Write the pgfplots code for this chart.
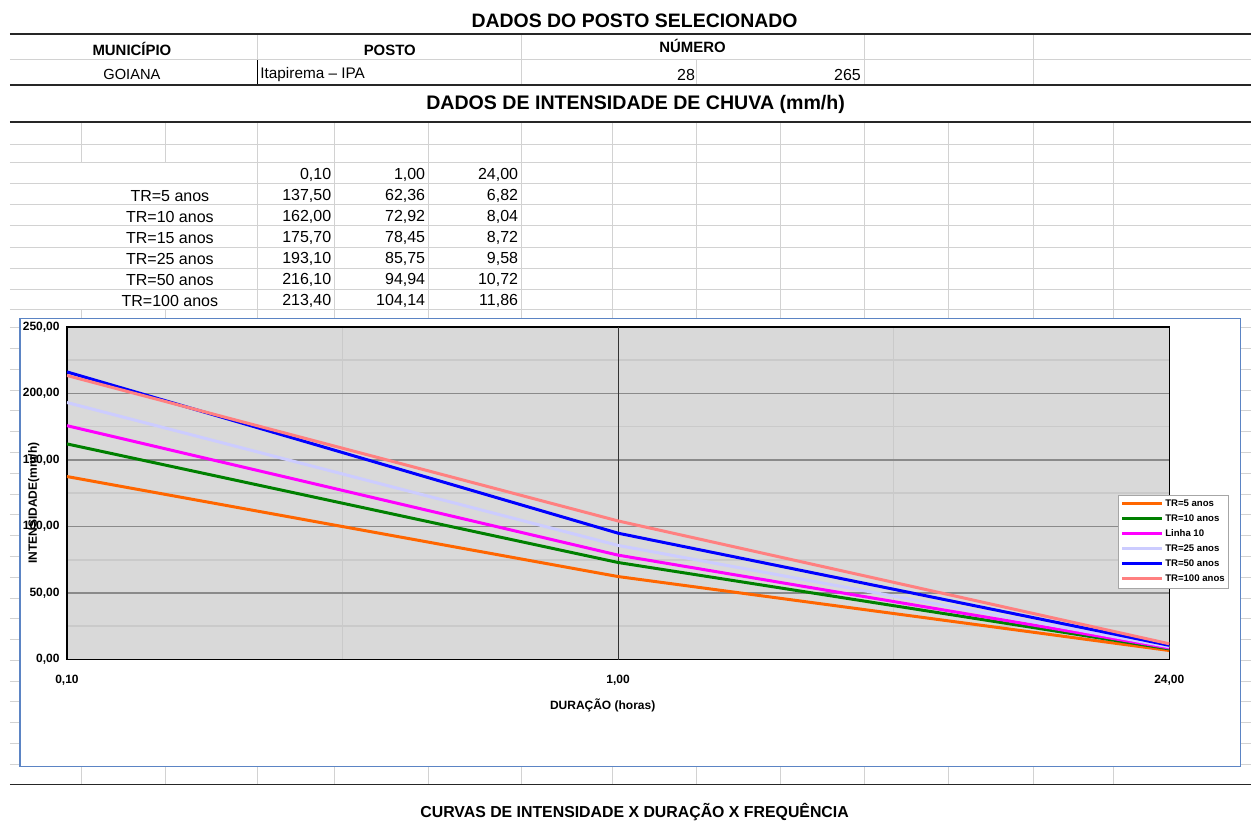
\documentclass[border=0pt]{standalone}
\usepackage{pgfplots}
\pgfplotsset{compat=1.18}
\usepackage{fontspec}
\setmainfont{Liberation Sans}
\definecolor{gridc}{HTML}{D2D2D2}
\definecolor{plotbg}{HTML}{D9D9D9}
\definecolor{minorg}{HTML}{CACACA}
\definecolor{majorg}{HTML}{8A8A8A}
\definecolor{chartblue}{HTML}{5B84C4}
\definecolor{cTRa}{HTML}{FF6600}
\definecolor{cTRb}{HTML}{008000}
\definecolor{cTRc}{HTML}{FF00FF}
\definecolor{cTRd}{HTML}{CCCCFF}
\definecolor{cTRe}{HTML}{0000FF}
\definecolor{cTRf}{HTML}{FF8080}
\pgfplotstableread{
x  a      b      c      d      e      f
0  137.50 162.00 175.70 193.10 216.10 213.40
1  62.36  72.92  78.45  85.75  94.94  104.14
2  6.82   8.04   8.72   9.58   10.72  11.86
}\idf
\begin{document}
\begin{tikzpicture}[x=0.75pt,y=0.75pt]
\path (0,0) rectangle (1252,834);
\begin{scope}[shift={(0,834)}, yscale=-1]
% spreadsheet grid
\begin{scope}[draw=gridc, line width=0.75pt]
 \draw (10,60) -- (1252,60);
 \foreach \y in {145,163,184,205,226,248,269,290,310} \draw (10,\y) -- (1252,\y);
 \foreach \i in {0,...,21} \draw (10,{328+20.8*\i}) -- (1252,{328+20.8*\i});
 \foreach \x in {258,522,865,1034} \draw (\x,34) -- (\x,60);
 \foreach \x in {522,697,865,1034} \draw (\x,60) -- (\x,85);
 \foreach \x in {82,166} \draw (\x,122) -- (\x,163) (\x,310) -- (\x,319) (\x,767) -- (\x,785);
 \foreach \x in {258,335,429,522,613,697,781,865,949,1034,1114} \draw (\x,122) -- (\x,319) (\x,767) -- (\x,785);
\end{scope}
\draw[line width=0.75pt] (258,60) -- (258,85);
\draw[black!85, line width=1.2pt] (10,34) -- (1252,34) (10,85) -- (1252,85) (10,122) -- (1252,122) (10,785) -- (1252,785);
% texts
\node[font=\bfseries\fontsize{14.6}{16}\selectfont] at (635,21) {DADOS DO POSTO SELECIONADO};
\node[font=\bfseries\fontsize{11.2}{13}\selectfont] at (132,49) {MUNICÍPIO};
\node[font=\bfseries\fontsize{11.2}{13}\selectfont] at (390,50) {POSTO};
\node[font=\bfseries\fontsize{11.2}{13}\selectfont] at (693,46) {NÚMERO};
\node[font=\fontsize{11}{13}\selectfont] at (132,75) {GOIANA};
\node[font=\fontsize{11.5}{14}\selectfont, anchor=west, inner sep=1pt] at (259,75) {Itapirema – IPA};
\node[font=\fontsize{12}{14}\selectfont, anchor=east, inner sep=1pt] at (697,75) {28};
\node[font=\fontsize{12}{14}\selectfont, anchor=east, inner sep=1pt] at (863,75) {265};
\node[font=\bfseries\fontsize{14.7}{16}\selectfont] at (636,105) {DADOS DE INTENSIDADE DE CHUVA (mm/h)};
\begin{scope}[every node/.style={font=\fontsize{12}{14}\selectfont, inner sep=1pt}]
 \node[anchor=east] at (333,175) {0,10};
 \node[anchor=east] at (427,175) {1,00};
 \node[anchor=east] at (520,175) {24,00};
 \node at (170,196) {TR=5 anos};   \node[anchor=east] at (333,196) {137,50}; \node[anchor=east] at (427,196) {62,36};  \node[anchor=east] at (520,196) {6,82};
 \node at (170,217) {TR=10 anos};  \node[anchor=east] at (333,217) {162,00}; \node[anchor=east] at (427,217) {72,92};  \node[anchor=east] at (520,217) {8,04};
 \node at (170,238) {TR=15 anos};  \node[anchor=east] at (333,238) {175,70}; \node[anchor=east] at (427,238) {78,45};  \node[anchor=east] at (520,238) {8,72};
 \node at (170,259) {TR=25 anos};  \node[anchor=east] at (333,259) {193,10}; \node[anchor=east] at (427,259) {85,75};  \node[anchor=east] at (520,259) {9,58};
 \node at (170,280) {TR=50 anos};  \node[anchor=east] at (333,280) {216,10}; \node[anchor=east] at (427,280) {94,94};  \node[anchor=east] at (520,280) {10,72};
 \node at (170,301) {TR=100 anos}; \node[anchor=east] at (333,301) {213,40}; \node[anchor=east] at (427,301) {104,14}; \node[anchor=east] at (520,301) {11,86};
\end{scope}
\node[font=\bfseries\fontsize{11.9}{14}\selectfont] at (635,813) {CURVAS DE INTENSIDADE X DURAÇÃO X FREQUÊNCIA};
% chart area
\draw[chartblue, line width=0.9pt, fill=white] (20,319) rectangle (1241,767);
\end{scope}
\begin{axis}[
  at={(50.25pt,130.5pt)}, anchor=south west,
  scale only axis, width=827.25pt, height=249.75pt,
  xmin=0, xmax=2, ymin=0, ymax=250,
  axis background/.style={fill=plotbg},
  axis line style={black, line width=1.1pt},
  xtick={0,1,2}, xticklabels={{0,10},{1,00},{24,00}},
  minor xtick={0.5,1.5},
  ytick={0,50,...,250},
  yticklabels={{0,00},{50,00},{100,00},{150,00},{200,00},{250,00}},
  minor ytick={25,75,...,225},
  major tick length=0pt, minor tick length=0pt,
  grid=both,
  major x grid style={black!80, line width=0.6pt},
  minor x grid style={minorg, line width=1.2pt},
  major y grid style={majorg, line width=1.1pt},
  minor y grid style={minorg, line width=1.2pt},
  tick label style={font=\bfseries\fontsize{9}{10}\selectfont},
  xticklabel style={yshift=-8pt},
  yticklabel style={xshift=-2pt},
  xlabel={DURAÇÃO (horas)},
  ylabel={INTENSIDADE(mm/h)},
  xlabel style={at={(axis description cs:0.486,-0.137)}, anchor=center, font=\bfseries\fontsize{9}{10}\selectfont},
  ylabel style={at={(axis description cs:-0.0300,0.47)}, anchor=center, font=\bfseries\fontsize{9}{10}\selectfont},
  legend style={at={(axis description cs:0.9535,0.4955)}, anchor=north west,
    draw=black!35, fill=white, font=\bfseries\fontsize{7.2}{8}\selectfont,
    inner sep=2pt, row sep=1.75pt,
    nodes={inner sep=1pt, text height=6pt, text depth=1.5pt}},
  legend cell align=left,
  legend image code/.code={\draw[#1, line width=2.25pt] (0pt,0pt) -- (30pt,0pt);},
  every axis plot/.append style={line width=2.25pt},
]
\draw[black!80, line width=0.6pt] (axis cs:1,0) -- (axis cs:1,250);
\addplot[cTRa] table[x=x,y=a]{\idf}; \addlegendentry{TR=5 anos}
\addplot[cTRb] table[x=x,y=b]{\idf}; \addlegendentry{TR=10 anos}
\addplot[cTRc] table[x=x,y=c]{\idf}; \addlegendentry{Linha 10}
\addplot[cTRd] table[x=x,y=d]{\idf}; \addlegendentry{TR=25 anos}
\addplot[cTRe] table[x=x,y=e]{\idf}; \addlegendentry{TR=50 anos}
\addplot[cTRf] table[x=x,y=f]{\idf}; \addlegendentry{TR=100 anos}
\end{axis}
\end{tikzpicture}
\end{document}
